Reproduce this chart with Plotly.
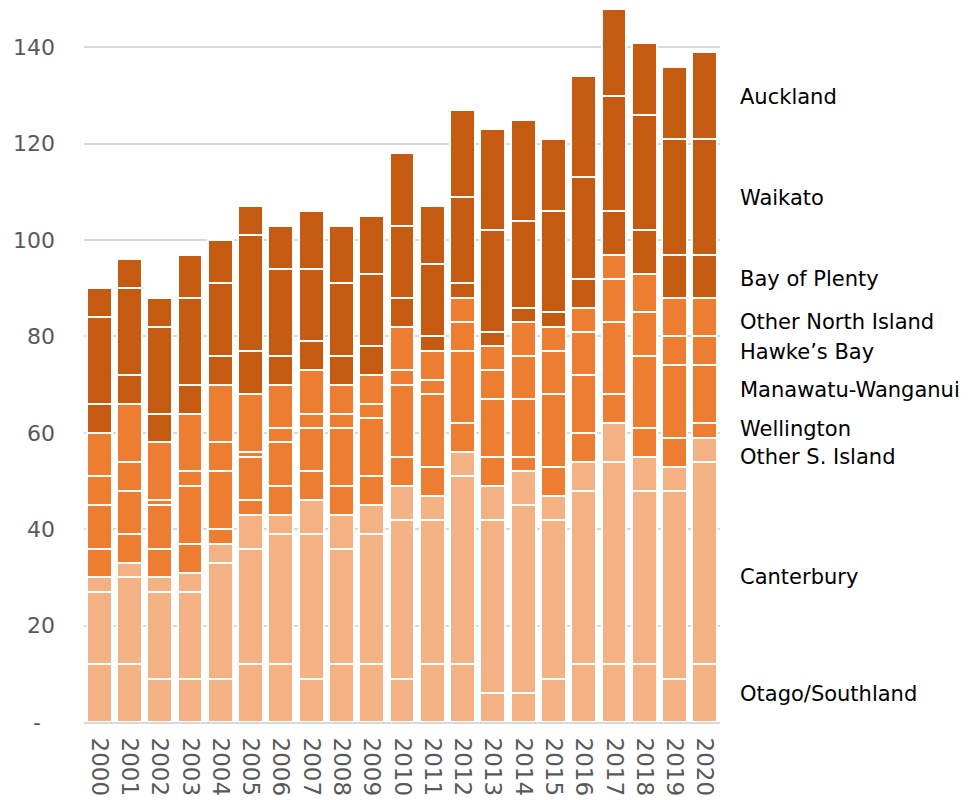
import plotly.graph_objects as go

years = [str(y) for y in range(2000, 2021)]

otago_southland = [12, 12, 9, 9, 9, 12, 12, 9, 12, 12, 9, 12, 12, 6, 6, 9, 12, 12, 12, 9, 12]
canterbury = [15, 18, 18, 18, 24, 24, 27, 30, 24, 27, 33, 30, 39, 36, 39, 33, 36, 42, 36, 39, 42]
other_s_island = [3, 3, 3, 4, 4, 7, 4, 7, 7, 6, 7, 5, 5, 7, 7, 5, 6, 8, 7, 5, 5]
wellington = [6, 6, 6, 6, 3, 3, 6, 6, 6, 6, 6, 6, 6, 6, 3, 6, 6, 6, 6, 6, 3]
manawatu_wanganui = [9, 9, 9, 12, 12, 9, 9, 9, 12, 12, 15, 15, 15, 12, 12, 15, 12, 15, 15, 15, 12]
hawkes_bay = [6, 6, 1, 3, 6, 1, 3, 3, 3, 3, 3, 3, 6, 6, 9, 9, 9, 9, 9, 6, 6]
other_north_island = [9, 12, 12, 12, 12, 12, 9, 9, 6, 6, 9, 6, 5, 5, 7, 5, 5, 5, 8, 8, 8]
bay_of_plenty = [6, 6, 6, 6, 6, 9, 6, 6, 6, 6, 6, 3, 3, 3, 3, 3, 6, 9, 9, 9, 9]
waikato = [18, 18, 18, 18, 15, 24, 18, 15, 15, 15, 15, 15, 18, 21, 18, 21, 21, 24, 24, 24, 24]
auckland = [6, 6, 6, 9, 9, 6, 9, 12, 12, 12, 15, 12, 18, 21, 21, 15, 21, 18, 15, 15, 18]

series_names = ["Otago/Southland", "Canterbury", "Other S. Island", "Wellington",
                "Manawatu-Wanganui", "Hawke\u2019s Bay", "Other North Island",
                "Bay of Plenty", "Waikato", "Auckland"]
series_values = [otago_southland, canterbury, other_s_island, wellington,
                 manawatu_wanganui, hawkes_bay, other_north_island,
                 bay_of_plenty, waikato, auckland]

y_tick_vals = [0, 20, 40, 60, 80, 100, 120, 140]
y_tick_text = ["-\u00a0\u00a0", "20", "40", "60", "80", "100", "120", "140"]

# styling / label placement (layout, not data)
LIGHT, MID, DARK = "#F4B183", "#ED7D31", "#C55A11"
colors = [LIGHT, LIGHT, LIGHT, MID, MID, MID, MID, DARK, DARK, DARK]
label_y = [5.9, 30.1, 55.0, 60.7, 68.8, 76.8, 83.0, 92.0, 108.7, 129.6]

fig = go.Figure()
for name, vals, col in zip(series_names, series_values, colors):
    fig.add_trace(go.Bar(
        x=years, y=vals, name=name,
        marker=dict(color=col, line=dict(color="white", width=2)),
        showlegend=False,
    ))

for name, ly in zip(series_names, label_y):
    fig.add_annotation(
        x=1.028, xref="paper", y=ly, yref="y",
        text=name, showarrow=False, xanchor="left", yanchor="middle",
        font=dict(family="DejaVu Sans", size=21, color="#000000"),
    )

fig.update_layout(
    barmode="stack",
    bargap=0.18,
    width=966, height=792,
    margin=dict(l=76, r=254, t=0, b=78),
    plot_bgcolor="white", paper_bgcolor="white",
    font=dict(family="DejaVu Sans", color="#595959", size=22),
)
fig.update_xaxes(
    type="category",
    tickangle=90,
    showgrid=False,
    showline=True, linecolor="#D9D9D9", linewidth=2,
    ticks="",
    tickfont=dict(size=23, color="#595959"),
    ticklabelstandoff=9,
)
fig.update_yaxes(
    range=[0, 148.16],
    tickvals=y_tick_vals, ticktext=y_tick_text,
    showgrid=True, gridcolor="#D9D9D9", gridwidth=2,
    zeroline=False, showline=False, ticks="",
    tickfont=dict(size=22, color="#595959"),
    ticklabelstandoff=28,
)

fig.write_html("out.html")
